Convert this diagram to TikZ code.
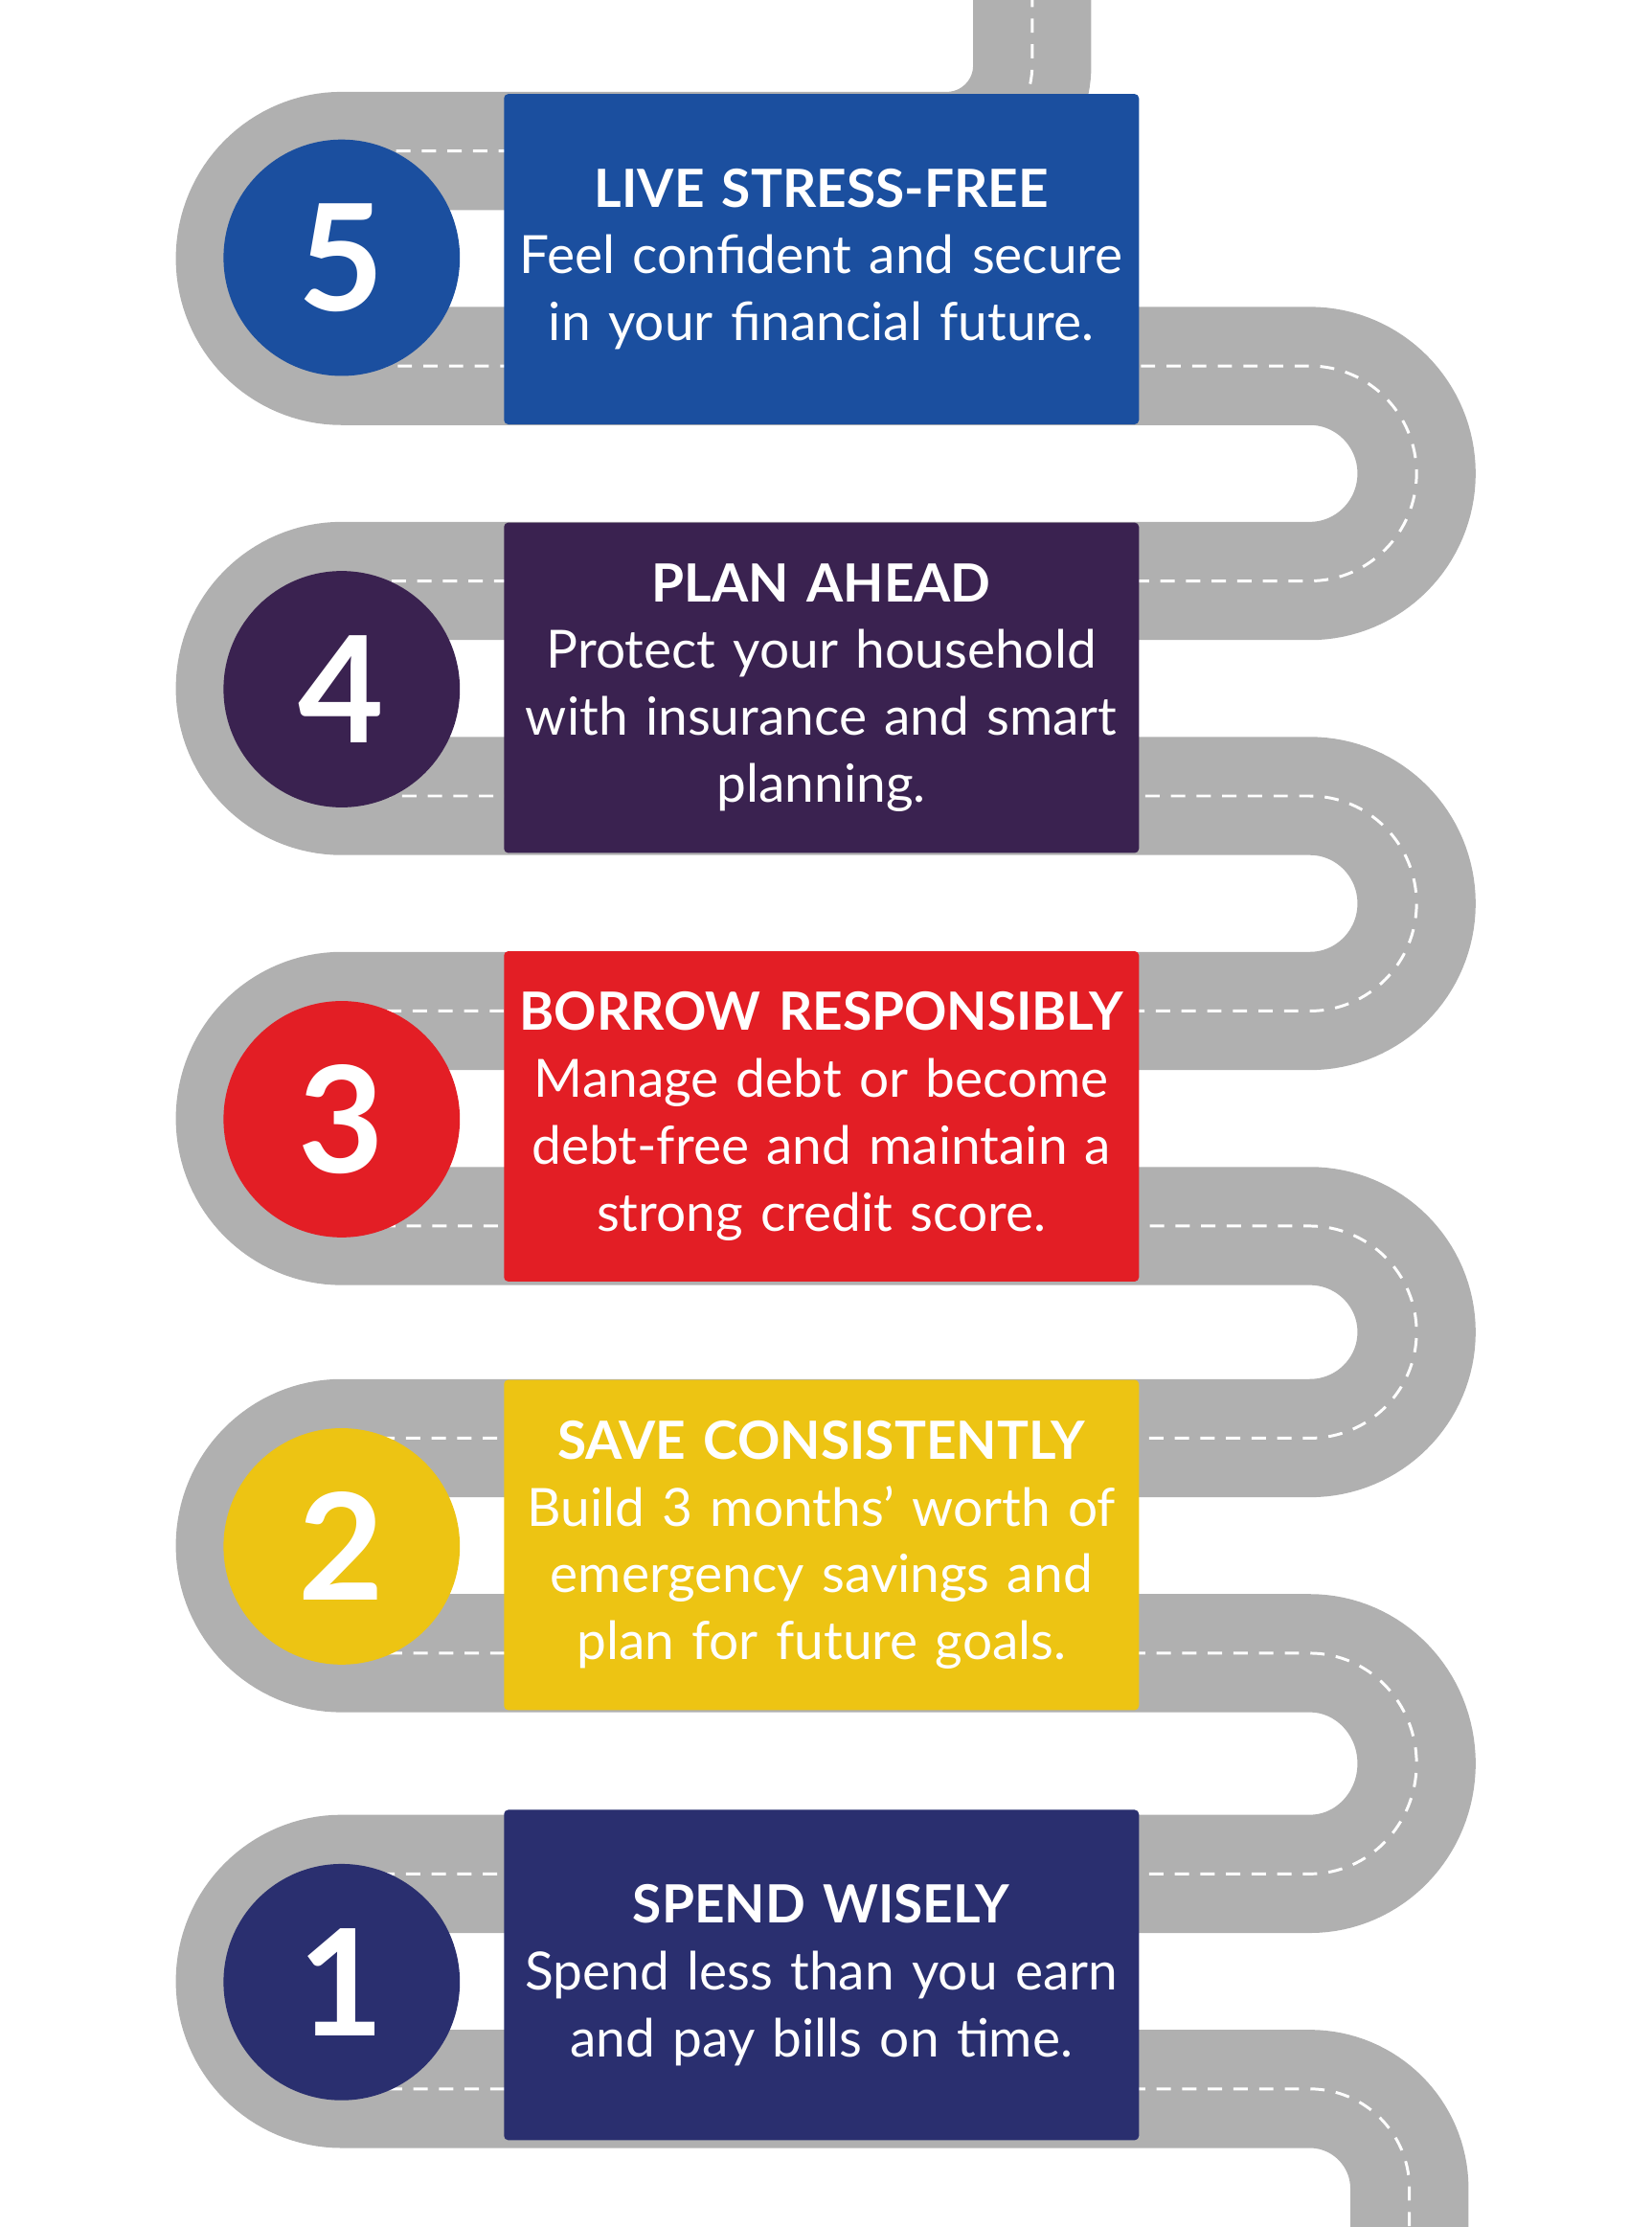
\documentclass[tikz,border=0pt]{standalone}
\usepackage{fontspec}
\setmainfont{Lato}
\begin{document}
\begin{tikzpicture}[x=0.5pt,y=0.5pt,
  road/.style={line width=41.5pt,draw={rgb,255:red,176;green,176;blue,176}},
  lane/.style={line width=1pt,draw=white,dash pattern=on 5pt off 4pt},
  stepbox/.style={rectangle,rounded corners=1.5pt,minimum width=223pt,minimum height=116pt,inner sep=0pt,text=white,text width=215pt,align=center,font=\fontsize{18.5}{23.5}\selectfont},
  numdisc/.style={circle,minimum size=83pt,inner sep=0pt,text=white,font=\fontsize{52}{52}\selectfont\bfseries}]
\definecolor{cA}{HTML}{2A2F6F}
\definecolor{cB}{HTML}{EDC413}
\definecolor{cC}{HTML}{E31E25}
\definecolor{cD}{HTML}{3A2250}
\definecolor{cE}{HTML}{1B4F9F}
\useasboundingbox (0,0) rectangle (1160,-1564);
\def\roadpath{(725,5) -- (725,-46) arc[start angle=0,end angle=-90,radius=60]
 -- (240,-106) arc[start angle=90,end angle=270,x radius=75,y radius=75.5]
 -- (920,-257) arc[start angle=90,end angle=-90,x radius=75,y radius=75.5]
 -- (240,-408) arc[start angle=90,end angle=270,x radius=75,y radius=75.5]
 -- (920,-559) arc[start angle=90,end angle=-90,x radius=75,y radius=75.5]
 -- (240,-710) arc[start angle=90,end angle=270,x radius=75,y radius=75.5]
 -- (920,-861) arc[start angle=90,end angle=-90,x radius=75,y radius=74.5]
 -- (240,-1010) arc[start angle=90,end angle=270,x radius=75,y radius=75.5]
 -- (920,-1161) arc[start angle=90,end angle=-90,x radius=75,y radius=77.5]
 -- (240,-1316) arc[start angle=90,end angle=270,x radius=75,y radius=75.5]
 -- (920,-1467) arc[start angle=90,end angle=0,radius=70] -- (990,-1570)}
\draw[road] \roadpath;
\draw[lane] \roadpath;
\node[stepbox,fill=cE] (b5) at (577,-182) {\textbf{LIVE STRESS-FREE}\\Feel confident and secure\\in your financial future.};
\node[stepbox,fill=cD] (b4) at (577,-483) {\textbf{PLAN AHEAD}\\Protect your household\\with insurance and smart\\planning.};
\node[stepbox,fill=cC] (b3) at (577,-784) {\textbf{BORROW RESPONSIBLY}\\Manage debt or become\\debt-free and maintain a\\strong credit score.};
\node[stepbox,fill=cB] (b2) at (577,-1085) {\textbf{SAVE CONSISTENTLY}\\Build 3 months’ worth of\\emergency savings and\\plan for future goals.};
\node[stepbox,fill=cA] (b1) at (577,-1387) {\textbf{SPEND WISELY}\\Spend less than you earn\\and pay bills on time.};
\node[numdisc,fill=cE] (n5) at (240,-181) {5};
\node[numdisc,fill=cD] (n4) at (240,-484) {4};
\node[numdisc,fill=cC] (n3) at (240,-786) {3};
\node[numdisc,fill=cB] (n2) at (240,-1086) {2};
\node[numdisc,fill=cA] (n1) at (240,-1392) {1};
\end{tikzpicture}
\end{document}
